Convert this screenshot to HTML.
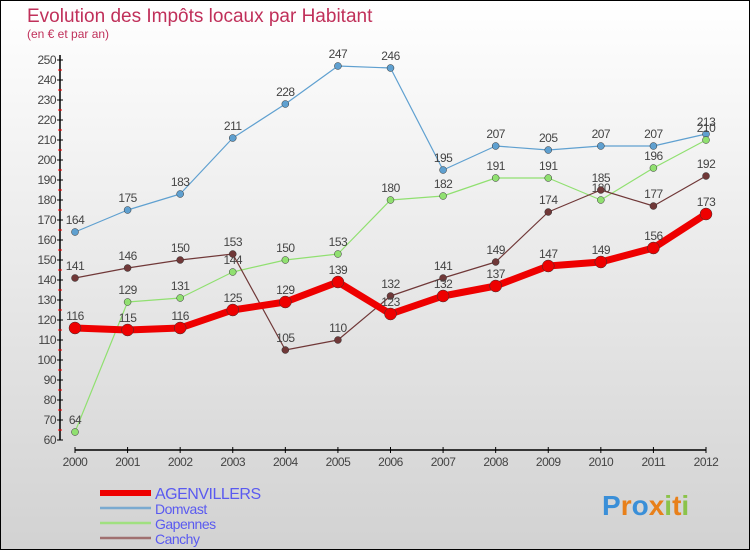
<!DOCTYPE html>
<html><head><meta charset="utf-8"><style>
body{margin:0}
#c{width:750px;height:550px;position:relative;box-sizing:border-box;border:1px solid #000;background:linear-gradient(#fff,#d2d2d2);font-family:"Liberation Sans",sans-serif;overflow:hidden}
</style></head><body>
<div id="c">
<svg id="s" width="750" height="550" style="position:absolute;left:-1px;top:-1px">
<text x="27" y="22" font-size="19" fill="#c0305a">Evolution des Impôts locaux par Habitant</text>
<text x="27" y="38" font-size="12" fill="#c0305a">(en € et par an)</text>
<g id="g"></g>
<text x="602" y="515" font-size="28" font-weight="bold"><tspan fill="#3a8fd8">P</tspan><tspan fill="#e8801a">r</tspan><tspan fill="#3a8fd8">o</tspan><tspan fill="#e8801a">x</tspan><tspan fill="#8bc34a">i</tspan><tspan fill="#e8801a">t</tspan><tspan fill="#8bc34a">i</tspan></text>
</svg>
</div>
<script>
const years=[2000,2001,2002,2003,2004,2005,2006,2007,2008,2009,2010,2011,2012];
const agenvillers=[116,115,116,125,129,139,123,132,137,147,149,156,173];
const domvast=[164,175,183,211,228,247,246,195,207,205,207,207,213];
const gapennes=[64,129,131,144,150,153,180,182,191,191,180,196,210];
const canchy=[141,146,150,153,105,110,132,141,149,174,185,177,192];
const yTicks=[60,70,80,90,100,110,120,130,140,150,160,170,180,190,200,210,220,230,240,250];
const NS='http://www.w3.org/2000/svg';
const g=document.getElementById('g');
const X=i=>75+i*(631/12);
const Y=v=>440-(v-60)*2;
function el(t,a,p){const e=document.createElementNS(NS,t);for(const k in a)e.setAttribute(k,a[k]);(p||g).appendChild(e);return e;}
let e;
e=el('line',{x1:60,y1:55,x2:60,y2:440,stroke:'#000','stroke-width':1.5});


e=el('line',{x1:75,y1:450,x2:706,y2:450,stroke:'#000','stroke-width':1.5});


yTicks.forEach(v=>{
 el('line',{x1:57,y1:Y(v),x2:63,y2:Y(v),stroke:'#000'});
 if(v<250) el('line',{x1:58,y1:Y(v+5),x2:62,y2:Y(v+5),stroke:'red'});
 e=el('text',{x:56,y:Y(v)+4,'font-size':12,fill:'#444','text-anchor':'end','letter-spacing':'-0.5'});
 e.textContent=v;
 
 
});
years.forEach((yr,i)=>{
 el('line',{x1:X(i),y1:447,x2:X(i),y2:453,stroke:'#000'});
 e=el('text',{x:X(i),y:466,'font-size':12,fill:'#444','text-anchor':'middle','letter-spacing':'-0.5'});
 e.textContent=yr;
 
 
});
const series=[
 {name:'domvast',d:domvast,c:'#5fa0d0',w:1.2,r:3.5},
 {name:'gapennes',d:gapennes,c:'#90e070',w:1.2,r:3.5},
 {name:'canchy',d:canchy,c:'#703838',w:1.2,r:3.5},
 {name:'agenvillers',d:agenvillers,c:'#ee0000',w:7,r:6}];
series.forEach(s=>{
 e=el('polyline',{points:s.d.map((v,i)=>X(i)+','+Y(v)).join(' '),fill:'none',stroke:s.c,'stroke-width':s.w,'stroke-linejoin':'round'});
 
 
 s.d.forEach((v,i)=>{
  e=el('circle',{cx:X(i),cy:Y(v),r:s.r,fill:s.c,stroke:'#333','stroke-width':0.5});
  
  
  e=el('text',{x:X(i),y:Y(v)-8,'font-size':12,fill:'#444','text-anchor':'middle','letter-spacing':'-0.5'});
  e.textContent=v;
  
  
 });
});
const leg=[['AGENVILLERS','#ee0000',6,16],['Domvast','#7aaad0',2.5,14],['Gapennes','#a0e080',2.5,14],['Canchy','#a07070',2.5,14]];
leg.forEach((l,i)=>{
 const y=493+i*15;
 e=el('line',{x1:100,y1:y,x2:151,y2:y,stroke:l[1],'stroke-width':l[2]});
 
 
 e=el('text',{x:155,y:y+6,'font-size':l[3],fill:'#5a5af0','letter-spacing':'-0.5'});
 e.textContent=l[0];
 
 
});
</script>
</body></html>
